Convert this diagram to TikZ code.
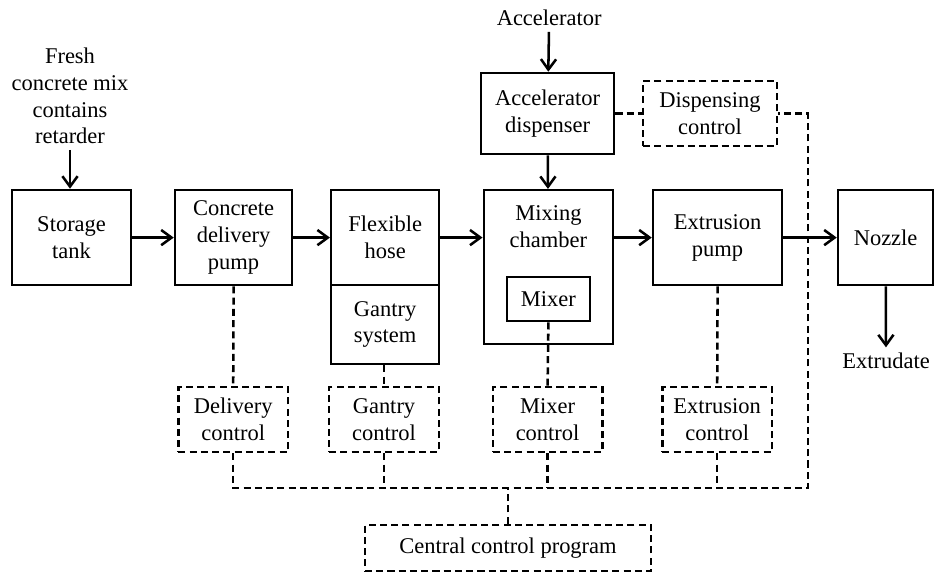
\documentclass[tikz,border=0pt]{standalone}
\usepackage{fontspec}
\setmainfont{Liberation Serif}
\usetikzlibrary{arrows.meta}

\begin{document}
\begin{tikzpicture}[
  font=\fontsize{16}{19}\selectfont,
  line width=1.8pt,
  >={Straight Barb[length=2.6mm,width=3.8mm]},
  unit/.style={draw, align=center, inner sep=0pt, minimum height=2.38cm},
  ctlbox/.style={draw, dashed, dash pattern=on 5pt off 3pt, align=center, inner sep=0pt, minimum height=1.63cm, minimum width=2.74cm},
  ctl/.style={dashed, dash pattern=on 5pt off 3pt}
]
\useasboundingbox (0,0) rectangle (23.5,-14.33);

% material flow
\node[align=center] (fresh) at (1.75,-2.4) {Fresh\\concrete mix\\contains\\retarder};
\node[unit, minimum width=2.98cm] (tank) at (1.79,-5.94) {Storage\\tank};
\node[unit, minimum width=2.93cm] (pump) at (5.84,-5.94) {Concrete\\delivery\\pump};
\node[unit, minimum width=2.7cm] (hose) at (9.63,-5.94) {Flexible\\hose};
\node[unit, minimum width=2.7cm, minimum height=1.98cm] (gantry) at (9.63,-8.11) {Gantry\\system};
\node (accel) at (13.73,-0.45) {Accelerator};
\node[unit, minimum width=3.33cm, minimum height=2.03cm] (disp) at (13.69,-2.84) {Accelerator\\dispenser};
\node[unit, minimum width=3.23cm, minimum height=3.85cm,
  label={[anchor=north, align=center, yshift=-0.28cm]north:Mixing\\chamber}] (mixing) at (13.71,-6.68) {};
\node[unit, minimum width=2.08cm, minimum height=1.1cm] (mixer) at (13.71,-7.48) {Mixer};
\node[unit, minimum width=3.23cm] (extr) at (17.94,-5.94) {Extrusion\\pump};
\node[unit, minimum width=2.38cm] (nozzle) at (22.14,-5.94) {Nozzle};
\node (extrudate) at (22.15,-9.03) {Extrudate};

\draw[->] (fresh.south) -- (fresh.south |- tank.north);
\draw[->] (tank) -- (pump);
\draw[->] (pump) -- (hose);
\draw[->] (hose.east) -- (hose.east -| mixing.west);
\draw[->] (mixing.east |- hose.east) -- (extr.west);
\draw[->] (accel) -- (disp);
\draw[->] (disp) -- (mixing);
\draw[->] (extr) -- (nozzle);
\draw[->] (nozzle) -- (extrudate);

% control layer
\node[ctlbox, minimum width=3.35cm] (dctrl) at (17.75,-2.84) {Dispensing\\control};
\node[ctlbox] (delctrl) at (5.83,-10.49) {Delivery\\control};
\node[ctlbox] (gctrl) at (9.6,-10.49) {Gantry\\control};
\node[ctlbox] (mctrl) at (13.69,-10.49) {Mixer\\control};
\node[ctlbox] (ectrl) at (17.93,-10.49) {Extrusion\\control};
\node[ctlbox, minimum width=7.15cm, minimum height=1.15cm] (central) at (12.7,-13.7) {Central control program};

\coordinate (busL) at (5.83,-12.2);
\coordinate (busR) at (20.2,-12.2);

\draw[ctl] (pump.south) -- (delctrl.north);
\draw[ctl] (gctrl.north |- gantry.south) -- (gctrl.north);
\draw[ctl] (mixer.south) -- (mctrl.north);
\draw[ctl] (extr.south) -- (ectrl.north);
\draw[ctl] (disp.east) -- (dctrl.west);
\draw[ctl] (delctrl.south) -- (busL) -- (busR) -- (busR |- dctrl.east) -- (dctrl.east);
\draw[ctl] (gctrl.south) -- (gctrl.south |- busL);
\draw[ctl] (mctrl.south) -- (mctrl.south |- busL);
\draw[ctl] (ectrl.south) -- (ectrl.south |- busL);
\draw[ctl] (central.north) -- (central.north |- busL);
\end{tikzpicture}
\end{document}
